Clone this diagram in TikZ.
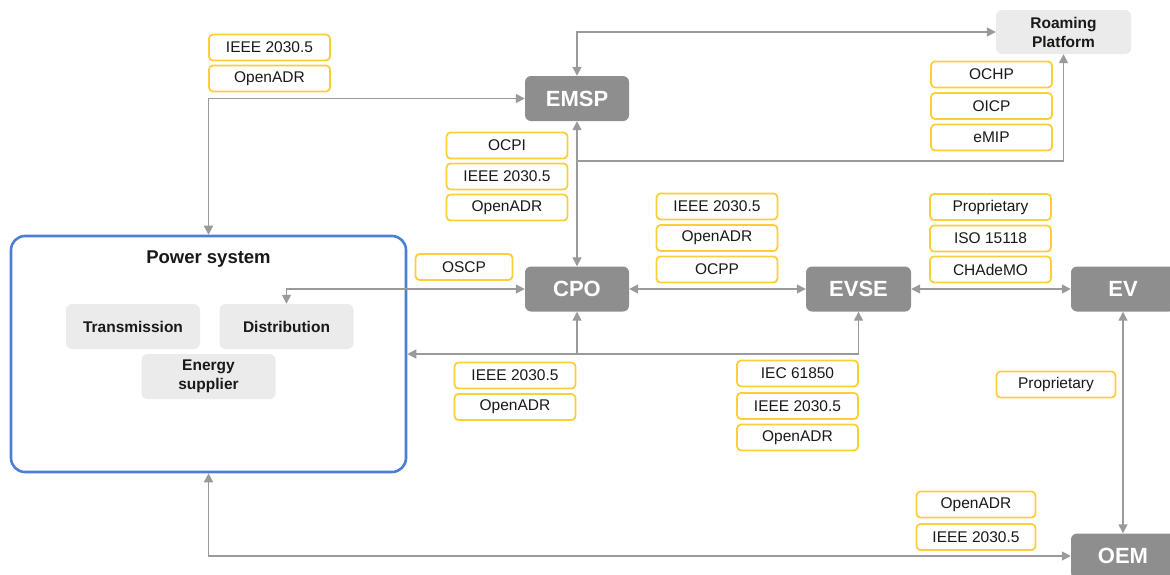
\documentclass[tikz,border=0pt]{standalone}
\usepackage{fontspec}
\setmainfont{Liberation Sans}
\usetikzlibrary{arrows.meta}
\definecolor{ylw}{HTML}{FCCF3A}
\definecolor{dgray}{HTML}{8E8E8E}
\definecolor{lgray}{HTML}{EBEBEB}
\definecolor{lnc}{HTML}{9A9A9A}
\definecolor{blu}{HTML}{4A7FD6}
\begin{document}
\begin{tikzpicture}[x=1pt,y=-1pt,
 lab/.style={draw=ylw,line width=1.8pt,rounded corners=4pt,fill=white,inner sep=0pt,minimum width=121pt,minimum height=26pt,font=\fontsize{15.5}{18}\selectfont,text=black!90},
 act/.style={fill=dgray,rounded corners=6pt,inner sep=0pt,minimum width=104pt,minimum height=45pt,text=white,font=\fontsize{22}{26}\selectfont\bfseries},
 sub/.style={fill=lgray,rounded corners=6pt,inner sep=0pt,minimum width=134pt,minimum height=45pt,font=\fontsize{15.5}{19}\selectfont\bfseries,align=center,text=black!90},
 tip/.tip={Triangle[length=9pt,width=9pt]},
 con/.style={draw=lnc,line width=1.6pt},
 both/.style={con,tip-tip},
 one/.style={con,-tip}
]
\useasboundingbox (0,0) rectangle (1170,574);

% power system
\node[draw=blu,line width=2.6pt,rounded corners=14pt,minimum width=395pt,minimum height=236pt,inner sep=0pt] (ps) at (208.5,354) {};
\node[font=\fontsize{18.5}{20}\selectfont\bfseries,text=black!90] (pst) at (208.5,259) {Power system};
\node[sub] (trans) at (133,326.5) {Transmission};
\node[sub] (dist) at (286.5,326.5) {Distribution};
\node[sub] (esup) at (208.5,376.5) {Energy\\supplier};

% actors
\node[act] (emsp) at (577,98.5) {EMSP};
\node[act] (cpo) at (577,289) {CPO};
\node[act,minimum width=105pt] (evse) at (858.5,289) {EVSE};
\node[act] (ev) at (1123,289) {EV};
\node[act] (oem) at (1123,556) {OEM};
\node[sub,minimum width=135pt,minimum height=44pt] (rp) at (1063.5,32) {Roaming\\Platform};

% labels
\node[lab] (a1) at (269.5,47.5) {IEEE 2030.5};
\node[lab] (a2) at (269.5,78.5) {OpenADR};
\node[lab] (b1) at (507,145.5) {OCPI};
\node[lab] (b2) at (507,176.5) {IEEE 2030.5};
\node[lab] (b3) at (507,207.5) {OpenADR};
\node[lab] (c1) at (991.5,74.5) {OCHP};
\node[lab] (c2) at (991.5,106) {OICP};
\node[lab] (c3) at (991.5,137.5) {eMIP};
\node[lab] (d1) at (717,206.5) {IEEE 2030.5};
\node[lab] (d2) at (717,238) {OpenADR};
\node[lab] (d3) at (717,269.5) {OCPP};
\node[lab] (e1) at (990.5,207) {Proprietary};
\node[lab] (e2) at (990.5,238.5) {ISO 15118};
\node[lab] (e3) at (990.5,269.5) {CHAdeMO};
\node[lab,minimum width=97pt] (f1) at (464,267) {OSCP};
\node[lab] (g1) at (515,375.5) {IEEE 2030.5};
\node[lab] (g2) at (515,407) {OpenADR};
\node[lab] (h1) at (797.5,373.5) {IEC 61850};
\node[lab] (h2) at (797.5,406) {IEEE 2030.5};
\node[lab] (h3) at (797.5,437.5) {OpenADR};
\node[lab,minimum width=119pt] (i1) at (1056,384.5) {Proprietary};
\node[lab,minimum width=119pt] (j1) at (976,504.5) {OpenADR};
\node[lab,minimum width=119pt] (j2) at (976,537) {IEEE 2030.5};

% connectors
\coordinate (k1) at (577,161);
\coordinate (k2) at (577,354);
\draw[both] (rp.west) -| (emsp.north);
\draw[both] (emsp.west) -| (ps.north);
\draw[both] (emsp.south) -- (cpo.north);
\draw[one] (k1) -| (rp.south);
\draw[both] (cpo.west) -| (dist.north);
\draw[both] (cpo.east) -- (evse.west);
\draw[both] (evse.east) -- (ev.west);
\draw[both] (evse.south) |- (ps.east);
\draw[one] (k2) -- (cpo.south);
\draw[both] (ev.south) -- (oem.north);
\draw[both] (oem.west) -| (ps.south);
\end{tikzpicture}
\end{document}
